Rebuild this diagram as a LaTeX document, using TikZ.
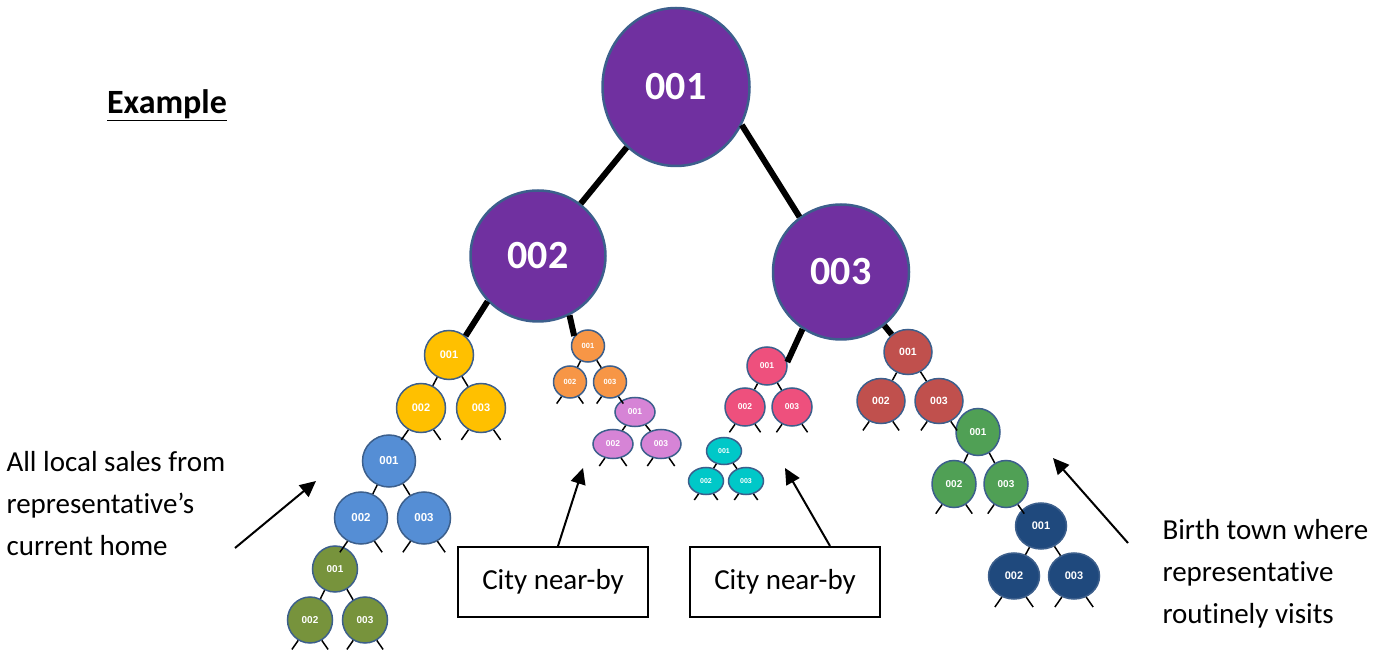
\documentclass[tikz,border=0pt]{standalone}
\usepackage{fontspec}
\setmainfont{Carlito}[Ligatures=NoCommon]
\newfontfamily\arialfont{Liberation Sans}
\usetikzlibrary{shapes.geometric,arrows.meta}
\definecolor{rim}{RGB}{60,95,140}
\definecolor{cpurple}{RGB}{112,48,160}
\definecolor{cyellow}{RGB}{255,192,0}
\definecolor{cblue}{RGB}{85,142,213}
\definecolor{colive}{RGB}{119,147,60}
\definecolor{corange}{RGB}{247,150,70}
\definecolor{corchid}{RGB}{214,132,214}
\definecolor{cpink}{RGB}{238,80,125}
\definecolor{ccyan}{RGB}{0,200,200}
\definecolor{cred}{RGB}{192,80,77}
\definecolor{cgreen}{RGB}{80,160,85}
\definecolor{cnavy}{RGB}{31,73,125}
\begin{document}
\begin{tikzpicture}[x=1pt, y=-1pt, >={Triangle[length=16pt,width=15pt]},
    bub/.style={ellipse, draw=rim, line width=1.5pt, inner sep=0pt, text=white},
    big/.style={bub, fill=cpurple, line width=2.5pt, font=\bfseries\fontsize{40}{40}\selectfont},
    small/.style={font=\arialfont\bfseries\fontsize{#1}{#1}\selectfont},
    ytree/.style={bub, fill=cyellow, minimum size=49, small=11},
    btree/.style={bub, fill=cblue, minimum width=53, minimum height=52, small=11.5},
    gtree/.style={bub, fill=colive, minimum width=45, minimum height=46, small=10},
    otree/.style={bub, fill=corange, minimum width=33, minimum height=32, small=7.5},
    vtree/.style={bub, fill=corchid, minimum width=40, minimum height=29, small=8.5},
    ktree/.style={bub, fill=cpink, minimum width=40, minimum height=38, small=8.5},
    ctree/.style={bub, fill=ccyan, minimum width=35, minimum height=27, small=7},
    rtree/.style={bub, fill=cred, minimum width=48, minimum height=45, small=10.5},
    ntree/.style={bub, fill=cgreen, minimum width=44, minimum height=47, small=10},
    dtree/.style={bub, fill=cnavy, minimum width=51, minimum height=46, small=11},
    stub/.style={line width=1.5pt},
    trunk/.style={line width=6pt},
    pointer/.style={->, line width=2pt},
    note/.style={font=\fontsize{29}{42}\selectfont, align=left},
    citybox/.style={draw, line width=2pt, minimum width=190, minimum height=70,
        font=\fontsize{29}{29}\selectfont}]
  \useasboundingbox (0,0) rectangle (1385,652);

  % top of the tree
  \node[big, minimum width=147, minimum height=158] (P1) at (676,87) {001};
  \node[big, minimum width=135, minimum height=131] (P2) at (538,256) {002};
  \node[big, minimum width=136, minimum height=135] (P3) at (841,272) {003};
  \draw[trunk] (P1) -- (P2);
  \draw[trunk] (P1.-30) -- (P3.127);

  % small trees, left side
  \node[ytree] (Y1) at (449,355) {001};
  \node[ytree] (Y2) at (421,408) {002};
  \node[ytree] (Y3) at (481,408) {003};
  \node[btree] (B1) at (389,461) {001};
  \node[btree] (B2) at (361,518) {002};
  \node[btree] (B3) at (424,518) {003};
  \node[gtree] (G1) at (335,569) {001};
  \node[gtree] (G2) at (310,620) {002};
  \node[gtree] (G3) at (365,620) {003};
  \node[otree] (O1) at (588,346) {001};
  \node[otree] (O2) at (570,382) {002};
  \node[otree] (O3) at (610,382) {003};
  \node[vtree] (V1) at (635,412) {001};
  \node[vtree] (V2) at (613,444) {002};
  \node[vtree] (V3) at (661,444) {003};

  % small trees, right side
  \node[ktree] (K1) at (767,366) {001};
  \node[ktree] (K2) at (745,407) {002};
  \node[ktree] (K3) at (792,407) {003};
  \node[ctree] (C1) at (724,451) {001};
  \node[ctree] (C2) at (706,481) {002};
  \node[ctree] (C3) at (746,481) {003};
  \node[rtree] (R1) at (908,352) {001};
  \node[rtree] (R2) at (881,401) {002};
  \node[rtree] (R3) at (939,401) {003};
  \node[ntree] (N1) at (978,432) {001};
  \node[ntree] (N2) at (954,484) {002};
  \node[ntree] (N3) at (1006,484) {003};
  \node[dtree] (D1) at (1041,526) {001};
  \node[dtree] (D2) at (1014,576) {002};
  \node[dtree] (D3) at (1074,576) {003};

  \draw[trunk] (P2.222) -- (Y1.49);
  \draw[trunk] (P2.-62) -- (O1.144);
  \draw[trunk] (P3.236) -- (K1.11);
  \draw[trunk] (P3.-51) -- (R1.133);

  \foreach \t in {Y,B,G,O,V,K,C,R,N,D}
    \draw[stub] (\t1) -- (\t2) (\t1) -- (\t3);
  \foreach \n/\s in {Y2/10,Y3/10,B2/11,B3/11,G2/9,G3/9,O2/7,O3/7,V2/8,V3/8,
                     K2/8,K3/8,C2/6,C3/6,R2/9,R3/9,N2/9,N3/9,D2/10,D3/10}
    \draw[stub] (\n.240) -- ++(-0.7*\s,\s) (\n.300) -- ++(0.7*\s,\s);

  % labels
  \node[font=\bfseries\fontsize{34}{34}\selectfont] (title) at (167,105) {\underline{Example}};
  \node[note, anchor=north west] (home) at (3,448) {All local sales from\\representative’s\\current home};
  \node[note, anchor=north west] (birth) at (1159,516) {Birth town where\\representative\\routinely visits};
  \node[citybox] (cityL) at (553,582) {City near-by};
  \node[citybox] (cityR) at (785,582) {City near-by};

  \coordinate (homeT) at (235,548);
  \coordinate (homeH) at (316,481);
  \coordinate (nearL) at (583,468);
  \coordinate (nearR) at (785,468);
  \coordinate (birthT) at (1128,543);
  \coordinate (birthH) at (1053,458);
  \draw[pointer] (homeT) -- (homeH);
  \draw[pointer] ([xshift=5pt]cityL.north) -- (nearL);
  \draw[pointer] ([xshift=45pt]cityR.north) -- (nearR);
  \draw[pointer] (birthT) -- (birthH);
\end{tikzpicture}
\end{document}
